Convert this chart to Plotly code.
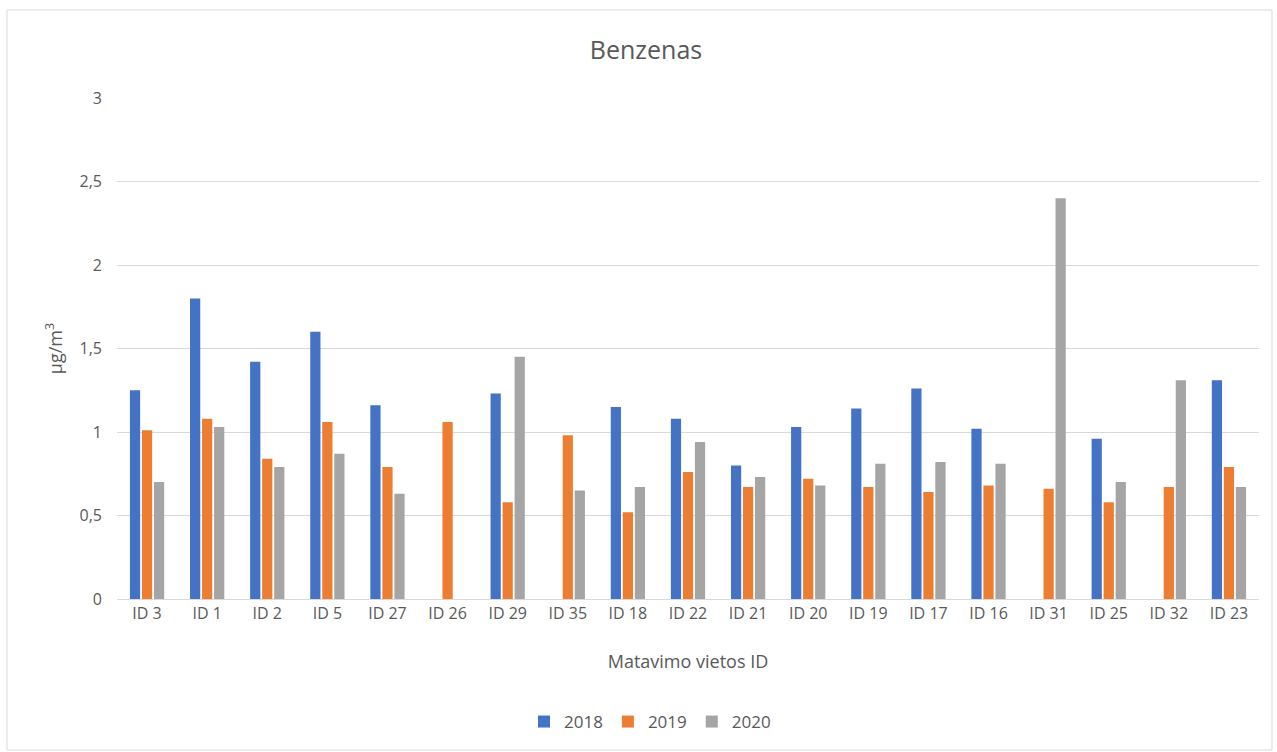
import plotly.graph_objects as go

categories = ["ID 3", "ID 1", "ID 2", "ID 5", "ID 27", "ID 26", "ID 29", "ID 35", "ID 18", "ID 22",
              "ID 21", "ID 20", "ID 19", "ID 17", "ID 16", "ID 31", "ID 25", "ID 32", "ID 23"]
v2018 = [1.25, 1.80, 1.42, 1.60, 1.16, None, 1.23, None, 1.15, 1.08,
         0.80, 1.03, 1.14, 1.26, 1.02, None, 0.96, None, 1.31]
v2019 = [1.01, 1.08, 0.84, 1.06, 0.79, 1.06, 0.58, 0.98, 0.52, 0.76,
         0.67, 0.72, 0.67, 0.64, 0.68, 0.66, 0.58, 0.67, 0.79]
v2020 = [0.70, 1.03, 0.79, 0.87, 0.63, None, 1.45, 0.65, 0.67, 0.94,
         0.73, 0.68, 0.81, 0.82, 0.81, 2.40, 0.70, 1.31, 0.67]
series_names = ["2018", "2019", "2020"]
colors = ["#4472C4", "#ED7D31", "#A5A5A5"]

font = "Open Sans, Lato, sans-serif"
fig = go.Figure()
for name, vals, c in zip(series_names, [v2018, v2019, v2020], colors):
    fig.add_trace(go.Bar(x=categories, y=vals, name=name, marker=dict(color=c, line=dict(width=0))))

fig.update_layout(
    width=1277, height=752,
    paper_bgcolor="white", plot_bgcolor="white",
    margin=dict(l=117, r=18, t=98, b=153),
    barmode="group", bargap=0.4, bargroupgap=0.15,
    font=dict(family=font, color="#595959", size=16),
    title=dict(text="Benzenas", x=646 / 1277, xref="container", xanchor="center",
               y=1 - 50 / 752, yanchor="middle",
               font=dict(size=25, color="#595959", family=font)),
    xaxis=dict(title=dict(text="Matavimo vietos ID", font=dict(size=18), standoff=32),
               showgrid=False, showline=True, linecolor="#d9d9d9", ticks="",
               tickfont=dict(size=16)),
    yaxis=dict(title=dict(text="μg/m<sup>3</sup>", font=dict(size=18), standoff=12),
               range=[0, 3], dtick=0.5, tickformat=".1~f",
               gridcolor="#d9d9d9", gridwidth=1, zeroline=False, showline=False,
               tickfont=dict(size=16), ticklabelstandoff=14),
    separators=", ",
    legend=dict(orientation="h", x=650 / 1277, xref="container", xanchor="center",
                y=1 - 722 / 752, yref="container", yanchor="middle",
                font=dict(size=17), traceorder="normal"),
    shapes=[dict(type="rect", xref="paper", yref="paper",
                 x0=(7 - 117) / 1142, x1=(1272 - 117) / 1142,
                 y0=(599 - 750) / 501, y1=(599 - 10) / 501,
                 line=dict(color="#d9d9d9", width=1), fillcolor="rgba(0,0,0,0)", layer="below")],
)
fig.write_html("out.html", config={"displayModeBar": False},
               post_script="document.body.style.margin='0';")
